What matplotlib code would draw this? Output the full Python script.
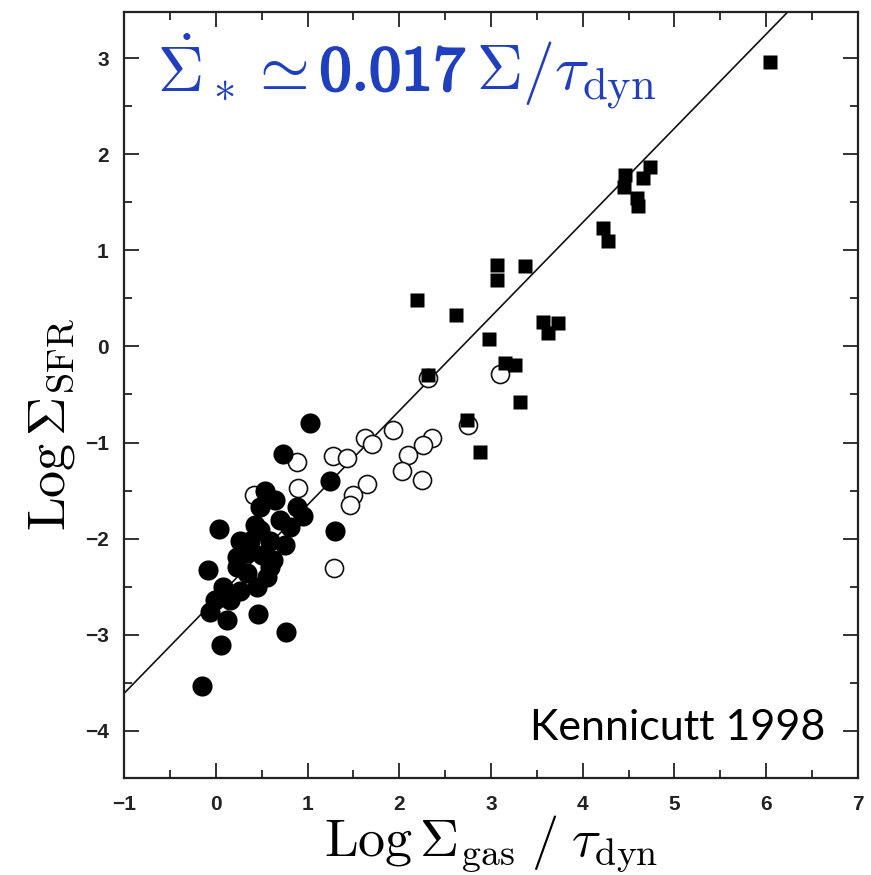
import numpy as np
import matplotlib; matplotlib.use("Agg")
import matplotlib.pyplot as plt
import matplotlib.patheffects as pe
from matplotlib.ticker import MultipleLocator

plt.rcParams["mathtext.fontset"] = "cm"

# starbursts (filled squares)
sb_x = [6.04, 4.46, 4.45, 4.73, 4.66, 4.59, 4.60, 4.22, 4.28, 3.07, 3.07, 3.37,
        2.19, 2.62, 2.98, 3.57, 3.73, 3.62, 3.15, 3.26, 3.32, 2.74, 2.88, 2.31]
sb_y = [2.96, 1.78, 1.66, 1.87, 1.75, 1.54, 1.46, 1.23, 1.10, 0.85, 0.69, 0.84,
        0.48, 0.33, 0.08, 0.25, 0.24, 0.14, -0.17, -0.19, -0.58, -0.77, -1.10, -0.30]

# normal disks, whole galaxies (filled circles)
disk_x = [1.03, 0.73, 0.04, 1.25, 1.30, 0.54, 0.48, 0.89, 0.95, 0.81, 0.59, 0.34,
          0.23, 0.62, 0.56, -0.08, 0.08, 0.45, 0.34, 0.23, 0.59, -0.06, 0.12, 0.46,
          0.77, 0.06, -0.15, 0.43, 0.70, 0.50, 0.37, 0.26, 0.16, -0.01, 0.48, 0.75,
          0.26, 0.65]
disk_y = [-0.80, -1.12, -1.90, -1.40, -1.92, -1.50, -1.67, -1.67, -1.76, -1.88, -2.02, -2.15,
          -2.19, -2.22, -2.40, -2.33, -2.50, -2.50, -2.36, -2.30, -2.30, -2.76, -2.85, -2.78,
          -2.97, -3.11, -3.53, -1.86, -1.81, -2.17, -2.02, -2.54, -2.64, -2.64, -1.91, -2.07,
          -2.02, -1.60]

# circumnuclear regions (open circles)
nuc_x = [2.31, 3.10, 2.75, 1.93, 1.63, 1.70, 1.28, 1.43, 0.89, 0.42, 0.90, 1.65,
         1.50, 1.46, 2.36, 2.26, 2.10, 2.03, 2.25, 1.29]
nuc_y = [-0.33, -0.29, -0.82, -0.87, -0.95, -1.02, -1.14, -1.16, -1.20, -1.55, -1.47, -1.43,
         -1.55, -1.65, -0.95, -1.03, -1.13, -1.30, -1.39, -2.31]

# fit line
fit_slope, fit_icpt = 0.98, -2.63

fig = plt.figure(figsize=(8.71, 8.75), dpi=100)
ax = fig.add_axes([0.1424, 0.1109, 0.8426, 0.8754])

xx = np.array([-1.0, 7.0])
ax.plot(xx, fit_slope * xx + fit_icpt, color="#111111", lw=1.2, zorder=1)

ax.plot(nuc_x, nuc_y, "o", ms=13, mfc="white", mec="#111111", mew=1.2, zorder=2)
ax.plot(disk_x, disk_y, "o", ms=14.5, color="black", mec="none", zorder=3)
ax.plot(sb_x, sb_y, "s", ms=10, color="black", mec="none", zorder=4)

ax.set_xlim(-1, 7)
ax.set_ylim(-4.49, 3.48)
ax.xaxis.set_major_locator(MultipleLocator(1))
ax.xaxis.set_minor_locator(MultipleLocator(0.5))
ax.yaxis.set_major_locator(MultipleLocator(1))
ax.yaxis.set_minor_locator(MultipleLocator(0.5))
ax.tick_params(which="both", direction="in", top=True, right=True, width=1.3,
               color="#222222")
ax.tick_params(which="major", length=11)
ax.tick_params(which="minor", length=6)
for lab in ax.get_xticklabels() + ax.get_yticklabels():
    lab.set_fontfamily("Liberation Sans")
    lab.set_fontweight("bold")
    lab.set_fontsize(15)
    lab.set_color("#222222")
ax.tick_params(axis="x", pad=12)
ax.tick_params(axis="y", pad=11)
for sp in ax.spines.values():
    sp.set_linewidth(1.6)
    sp.set_color("#222222")

ax.set_xlabel(r"$\mathrm{Log}\,\Sigma_{\rm gas}\;/\;\tau_{\rm dyn}$", fontsize=39, labelpad=0)
ax.set_ylabel(r"$\mathrm{Log}\,\Sigma_{\rm SFR}$", fontsize=39)
ax.yaxis.set_label_coords(-0.064, 0.461)

ax.text(0.955, 0.065, "Kennicutt 1998", transform=ax.transAxes, fontsize=31,
        family="Lato", ha="right", va="center", color="black")

# blue formula, built from three pieces so the coefficient can be heavier
blue = "#1f3fbf"
pieces = [
    (r"$\dot{\Sigma}_* \simeq$", None, 12),
    (r"$\mathrm{0.017}$", [pe.withStroke(linewidth=1.7, foreground=blue)], 10),
    (r"$\Sigma/\tau_{\rm dyn}$", None, 0),
]
fig.canvas.draw()
renderer = fig.canvas.get_renderer()
x_cur, y_base = 0.045, 0.898
for s, eff, gap in pieces:
    t = ax.text(x_cur, y_base, s, transform=ax.transAxes, fontsize=46,
                color=blue, ha="left", va="baseline")
    if eff:
        t.set_path_effects(eff)
    bb = t.get_window_extent(renderer)
    x_cur = ax.transAxes.inverted().transform((bb.x1 + gap, bb.y0))[0]

fig.savefig("out.png", dpi=100)
